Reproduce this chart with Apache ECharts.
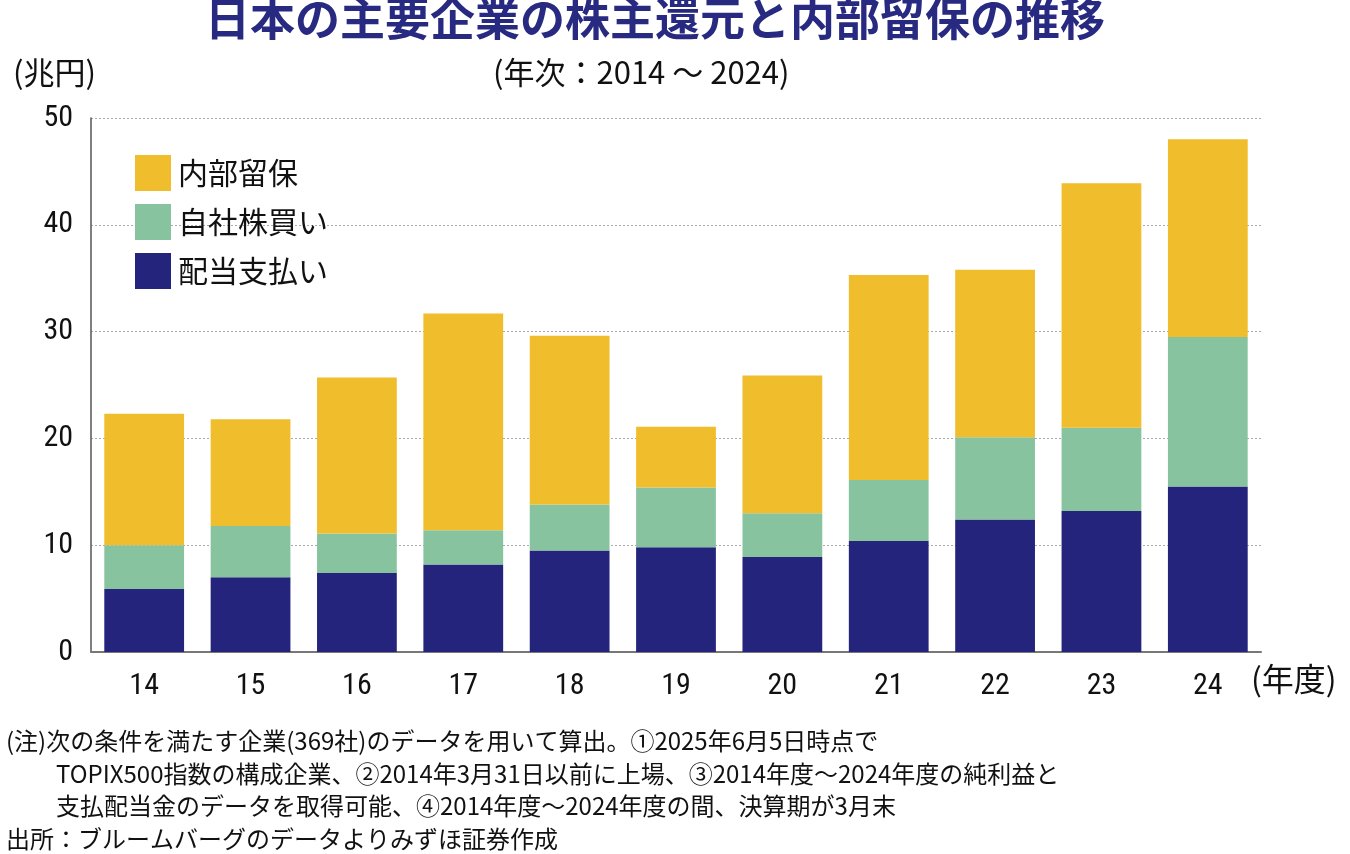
<!DOCTYPE html>
<html>
<head>
<meta charset="utf-8">
<script src="https://cdn.jsdelivr.net/npm/echarts@6/dist/echarts.min.js"></script>
<style>
  html, body { margin: 0; padding: 0; background: #fff; }
  #chart { width: 1350px; height: 854px; }
</style>
</head>
<body>
<div id="chart"></div>
<script>
// 年度 (2014〜2024)
const years = ['14', '15', '16', '17', '18', '19', '20', '21', '22', '23', '24'];
// 兆円
const dividends = [5.9, 7.0, 7.4, 8.2, 9.5, 9.8, 8.9, 10.4, 12.4, 13.2, 15.5];
const buybacks = [4.1, 4.8, 3.7, 3.2, 4.3, 5.6, 4.1, 5.7, 7.7, 7.8, 14.0];
const retained = [12.3, 10.0, 14.6, 20.3, 15.8, 5.7, 12.9, 19.2, 15.7, 22.9, 18.5];

const notes = [
    '(注)次の条件を満たす企業(369社)のデータを用いて算出。①2025年6月5日時点で',
    'TOPIX500指数の構成企業、②2014年3月31日以前に上場、③2014年度～2024年度の純利益と',
    '支払配当金のデータを取得可能、④2014年度～2024年度の間、決算期が3月末',
    '出所：ブルームバーグのデータよりみずほ証券作成'
];

const JP = '"Noto Sans CJK JP", sans-serif';
const NUM = '"Liberation Sans Narrow", "Roboto Condensed", "Noto Sans CJK JP", sans-serif';

const chart = echarts.init(document.getElementById('chart'));

const noteTexts = notes.map((t, i) => ({
    type: 'text',
    left: (i === 1 || i === 2) ? 56 : 6,
    top: 729 + i * 32.5,
    style: { text: t, font: '24px ' + JP, fill: '#111' }
}));

chart.setOption({
    backgroundColor: '#fff',
    animation: false,
    title: [
        {
            text: '日本の主要企業の株主還元と内部留保の推移',
            left: 200, top: -9,
            textStyle: { fontFamily: JP, fontSize: 45, fontWeight: 'bold', color: '#272a80' }
        },
        {
            text: '(年次：2014 ～ 2024)',
            left: 488, top: 52,
            textStyle: { fontFamily: JP, fontSize: 31, fontWeight: 'normal', color: '#111' }
        },
        {
            text: '(兆円)',
            left: 8, top: 52,
            textStyle: { fontFamily: JP, fontSize: 31, fontWeight: 'normal', color: '#111' }
        },
        {
            text: '(年度)',
            left: 1246, top: 658,
            textStyle: { fontFamily: JP, fontSize: 32, fontWeight: 'normal', color: '#111' }
        }
    ],
    legend: {
        orient: 'vertical',
        left: 130, top: 150,
        itemWidth: 36, itemHeight: 36, itemGap: 13,
        icon: 'rect',
        data: ['内部留保', '自社株買い', '配当支払い'],
        textStyle: { fontFamily: JP, fontSize: 30, color: '#111', padding: [0, 0, 0, 2] }
    },
    grid: { left: 91, right: 89, top: 118, bottom: 202 },
    xAxis: {
        type: 'category',
        data: years,
        axisLine: { lineStyle: { color: '#777', width: 2 } },
        axisTick: { show: false },
        axisLabel: { fontFamily: NUM, fontSize: 30, color: '#111', margin: 19 }
    },
    yAxis: {
        type: 'value',
        min: 0, max: 50, interval: 10,
        axisLine: { show: true, lineStyle: { color: '#555', width: 1.5 } },
        axisTick: { show: false },
        axisLabel: { fontFamily: NUM, fontSize: 30, color: '#111', margin: 18 },
        splitLine: { lineStyle: { color: '#aaa', type: [2, 2], width: 1 } }
    },
    series: [
        {
            name: '配当支払い', type: 'bar', stack: 'total', data: dividends,
            barWidth: '75%', itemStyle: { color: '#25247d' }
        },
        {
            name: '自社株買い', type: 'bar', stack: 'total', data: buybacks,
            itemStyle: { color: '#88c3a0' }
        },
        {
            name: '内部留保', type: 'bar', stack: 'total', data: retained,
            itemStyle: { color: '#f0bd2d' }
        }
    ],
    graphic: noteTexts
});
</script>
</body>
</html>
